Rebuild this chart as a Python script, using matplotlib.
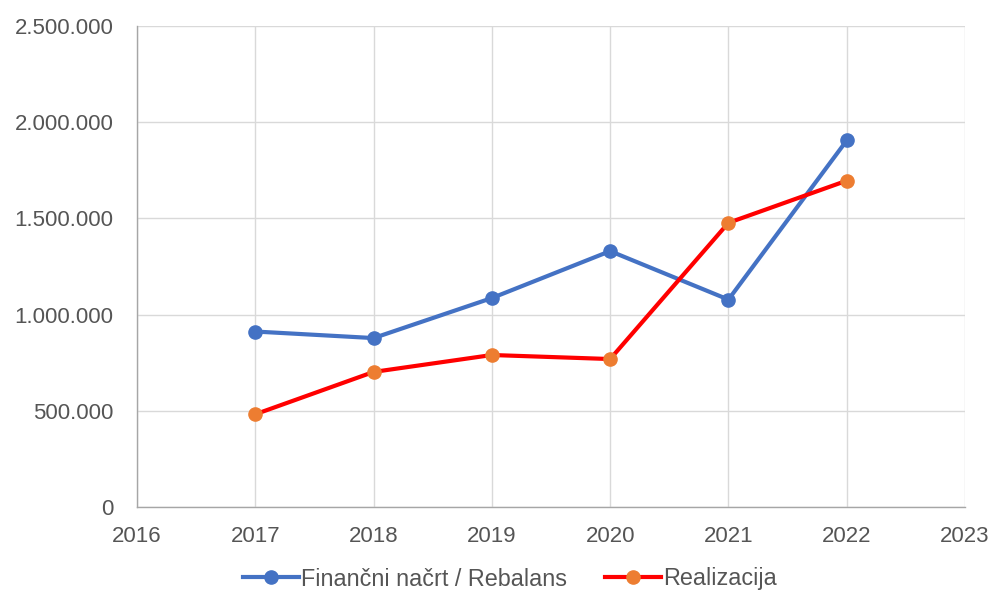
import matplotlib
matplotlib.use("Agg")
import matplotlib.pyplot as plt
from matplotlib.ticker import FuncFormatter, MultipleLocator

years = [2017, 2018, 2019, 2020, 2021, 2022]
plan = [912000, 878000, 1086000, 1330000, 1078000, 1905000]
real = [482000, 702000, 790000, 769000, 1477000, 1696000]
series_names = ["Finančni načrt / Rebalans", "Realizacija"]

plt.rcParams['font.family'] = ['Liberation Sans', 'DejaVu Sans']

fig = plt.figure(figsize=(9.92, 5.92), dpi=100)
ax = fig.add_axes([137/992, 1-507/592, (965-137)/992, (507-26)/592])

ax.plot(years, plan, color="#4472C4", lw=3, marker="o", ms=9.5,
        mfc="#4472C4", mec="#4472C4", label=series_names[0], zorder=3)
ax.plot(years, real, color="#FF0000", lw=3, marker="o", ms=9.5,
        mfc="#ED7D31", mec="#ED7D31", label=series_names[1], zorder=4)

ax.set_xlim(2016, 2023)
ax.set_ylim(0, 2500000)
ax.xaxis.set_major_locator(MultipleLocator(1))
ax.yaxis.set_major_locator(MultipleLocator(500000))
ax.yaxis.set_major_formatter(FuncFormatter(lambda v, p: f"{int(v):,}".replace(",", ".")))
ax.xaxis.set_major_formatter(FuncFormatter(lambda v, p: f"{int(v)}"))

ax.grid(True, color="#D9D9D9", lw=1)
ax.set_axisbelow(True)
for s in ["top", "right"]:
    ax.spines[s].set_visible(False)
for s in ["left", "bottom"]:
    ax.spines[s].set_color("#A6A6A6")
    ax.spines[s].set_linewidth(1)
ax.tick_params(length=0, labelsize=16, colors="#555555")
ax.tick_params(axis="y", pad=17)
ax.tick_params(axis="x", pad=14)

leg = fig.legend(loc="center", bbox_to_anchor=(0.5 + 14/992, 1-579/592), ncol=2, frameon=False,
                 fontsize=16.8, handlelength=2.4, columnspacing=1.6, handletextpad=0.1)
for t in leg.get_texts():
    t.set_color("#555555")

fig.savefig("out.png", dpi=100, facecolor="white")
